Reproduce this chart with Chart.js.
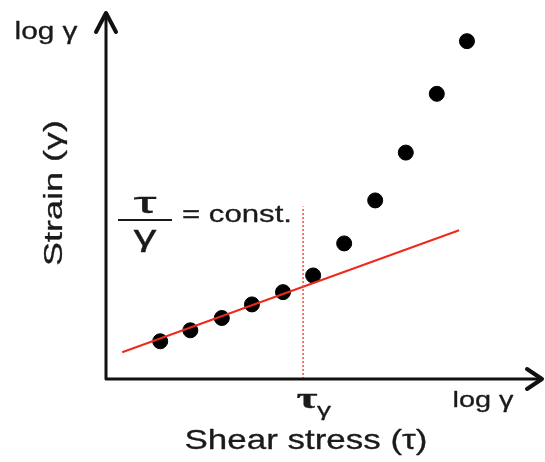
<!DOCTYPE html>
<html>
<head>
<meta charset="utf-8">
<script src="https://cdn.jsdelivr.net/npm/chart.js@4"></script>
<style>
  html, body { margin: 0; padding: 0; background: #fff; }
  #c { display: block; }
</style>
</head>
<body>
<canvas id="c" width="545" height="462"></canvas>
<script>
// measured strain points (log tau, log gamma), arbitrary units
const logTau = [1.24, 1.93, 2.65, 3.34, 4.05, 4.74, 5.45, 6.16, 6.86, 7.57, 8.26];
const logGamma = [0.86, 1.11, 1.39, 1.70, 1.98, 2.36, 3.09, 4.07, 5.16, 6.50, 7.70];

// linear region fit (tau/gamma = const.)
const fitX = [0.37, 8.08];
const fitY = [0.61, 3.39];

// yield stress marker
const yieldX = 4.51;
const yieldTop = 3.93;

const pts = logTau.map((x, i) => ({ x: x, y: logGamma[i] }));
const fit = fitX.map((x, i) => ({ x: x, y: fitY[i] }));
const yieldLine = [{ x: yieldX, y: 0 }, { x: yieldX, y: yieldTop }];

const sans = '"Liberation Sans", Arial, sans-serif';

// text squeezed/stretched to a given width (the original font is wide)
function fitText(ctx, txt, cx, cy, w, font) {
  ctx.font = font;
  const m = ctx.measureText(txt).width;
  ctx.save();
  ctx.translate(cx, cy);
  ctx.scale(w / m, 1);
  ctx.textAlign = "center";
  ctx.textBaseline = "middle";
  ctx.lineWidth = 0.3;
  ctx.strokeText(txt, 0, 0); // slightly heavier, like the scanned original
  ctx.fillText(txt, 0, 0);
  ctx.restore();
}

// draws the arrow axes + all the labels
const decor = {
  id: "decor",
  afterDraw(chart) {
    const ctx = chart.ctx;
    const a = chart.chartArea;
    const xs = chart.scales.x;
    ctx.save();
    ctx.strokeStyle = "#111";
    ctx.fillStyle = "#111";
    ctx.lineWidth = 3;
    ctx.lineCap = "round";
    ctx.lineJoin = "round";
    // axes
    const tipY = a.top - 16, tipX = a.right;
    ctx.beginPath();
    ctx.moveTo(a.left, tipY + 1);
    ctx.lineTo(a.left, a.bottom);
    ctx.lineTo(tipX - 1, a.bottom);
    ctx.stroke();
    // arrow heads
    ctx.lineWidth = 4;
    ctx.beginPath();
    ctx.moveTo(a.left - 10, tipY + 20);
    ctx.lineTo(a.left, tipY + 1);
    ctx.lineTo(a.left + 10, tipY + 20);
    ctx.stroke();
    ctx.beginPath();
    ctx.moveTo(tipX - 16, a.bottom - 10);
    ctx.lineTo(tipX - 1, a.bottom);
    ctx.lineTo(tipX - 16, a.bottom + 10);
    ctx.stroke();

    ctx.fillStyle = "#1a1a1a";
    ctx.strokeStyle = "#1a1a1a";
    // corner labels
    fitText(ctx, "log γ", 46, 33, 63, "23px " + sans);
    fitText(ctx, "log γ", 483, 401, 61, "22px " + sans);

    // axis titles
    fitText(ctx, "Shear stress (τ)", 306, 441, 243, "28px " + sans);
    ctx.save();
    ctx.translate(55, 193);
    ctx.rotate(-Math.PI / 2);
    fitText(ctx, "Strain (γ)", 0, 0, 146, "26px " + sans);
    ctx.restore();

    // tau_y under the yield line
    const yx = xs.getPixelForValue(yieldX);
    fitText(ctx, "τ", yx + 4, 400, 21, "bold 30px \"Liberation Serif\", serif");
    fitText(ctx, "γ", yx + 21, 411, 14, "19px " + sans);

    // fraction label
    fitText(ctx, "τ", 145, 205, 23, "30px " + sans);
    fitText(ctx, "γ", 145, 238, 23, "30px " + sans);
    ctx.lineWidth = 2;
    ctx.lineCap = "butt";
    ctx.beginPath();
    ctx.moveTo(118, 220);
    ctx.lineTo(172, 220);
    ctx.stroke();
    fitText(ctx, "= const.", 237, 215, 110, "24px " + sans);
    ctx.restore();
  }
};

new Chart(document.getElementById("c"), {
  type: "scatter",
  data: {
    datasets: [
      {
        type: "line",
        data: yieldLine,
        borderColor: "#ff4a3a",
        borderWidth: 1.5,
        borderDash: [2, 2],
        pointRadius: 0,
        fill: false
      },
      {
        type: "line",
        data: fit,
        borderColor: "#ee2a1c",
        borderWidth: 2,
        pointRadius: 0,
        fill: false
      },
      {
        data: pts,
        backgroundColor: "#000",
        borderColor: "#000",
        pointRadius: 7.5,
        pointHoverRadius: 7.5
      }
    ]
  },
  options: {
    responsive: false,
    animation: false,
    layout: { autoPadding: false, padding: { left: 106, right: 2, top: 28, bottom: 83 } },
    plugins: { legend: { display: false }, tooltip: { enabled: false } },
    scales: {
      x: { type: "linear", min: 0, max: 10, display: false },
      y: { type: "linear", min: 0, max: 8, display: false }
    }
  },
  plugins: [decor]
});
</script>
</body>
</html>
